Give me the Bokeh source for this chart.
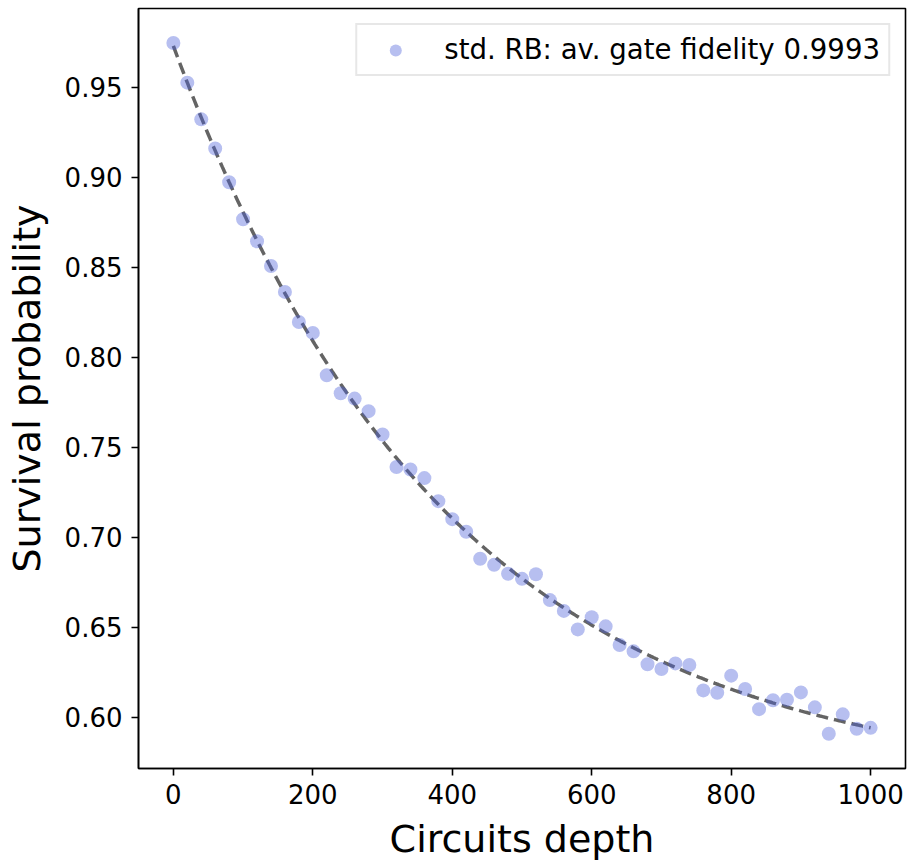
import numpy as np
from bokeh.plotting import figure
from bokeh.models import Range1d, FixedTicker, NumeralTickFormatter, Legend, LegendItem, ColumnDataSource
from bokeh.embed import file_html
from bokeh.resources import INLINE

# ---- data ----
depth = [0, 20, 40, 60, 80, 100, 120, 140, 160, 180,
         200, 220, 240, 260, 280, 300, 320, 340, 360, 380,
         400, 420, 440, 460, 480, 500, 520, 540, 560, 580,
         600, 620, 640, 660, 680, 700, 720, 740, 760, 780,
         800, 820, 840, 860, 880, 900, 920, 940, 960, 980, 1000]
survival = [0.9746, 0.9526, 0.9322, 0.9160, 0.8972, 0.8767, 0.8644, 0.8507, 0.8363, 0.8196,
            0.8135, 0.7900, 0.7800, 0.7770, 0.7700, 0.7570, 0.7390, 0.7376, 0.7328, 0.7200,
            0.7100, 0.7030, 0.6880, 0.6846, 0.6796, 0.6768, 0.6794, 0.6650, 0.6590, 0.6487,
            0.6555, 0.6504, 0.6400, 0.6365, 0.6293, 0.6267, 0.6298, 0.6289, 0.6148, 0.6135,
            0.6230, 0.6156, 0.6044, 0.6093, 0.6096, 0.6137, 0.6054, 0.5907, 0.6015, 0.5935, 0.5940]

# exponential decay fit  A * p**m + B  (parameters)
FIT_A = 0.4113
FIT_P = 0.99746
FIT_B = 0.5617

x_ticks = [0, 200, 400, 600, 800, 1000]
y_ticks = [0.60, 0.65, 0.70, 0.75, 0.80, 0.85, 0.90, 0.95]
legend_label = "std. RB: av. gate fidelity 0.9993"
x_label = "Circuits depth"
y_label = "Survival probability"

# ---- figure ----
p = figure(width=908, height=865, output_backend="svg", toolbar_location=None,
           x_range=Range1d(-50, 1050), y_range=Range1d(0.5714, 0.9938),
           min_border_left=138, min_border_right=3, min_border_top=8, min_border_bottom=97)
p.background_fill_color = "white"
p.border_fill_color = "white"
p.outline_line_color = "black"
p.outline_line_width = 1.6
p.grid.visible = False

fit_x = np.linspace(min(depth), max(depth), 400)
fit_y = FIT_A * FIT_P ** fit_x + FIT_B
line_r = p.line(fit_x, fit_y, line_color="#646464", line_width=3.5, line_dash="12 6")

src = ColumnDataSource(dict(x=depth, y=survival))
pts = p.scatter("x", "y", source=src, size=14, fill_color="#4a5fd9", fill_alpha=0.4,
                line_color=None)

legend = Legend(items=[LegendItem(label=legend_label, renderers=[pts])],
                location="top_right", margin=15, padding=8, glyph_width=60, glyph_height=30,
                label_standoff=19, label_text_font="DejaVu Sans", label_text_font_size="27.6px",
                label_text_color="black", border_line_color="#d0d0d0", border_line_width=2,
                background_fill_alpha=0.8, spacing=0, label_height=30)
p.add_layout(legend)

for ax in (p.xaxis[0], p.yaxis[0]):
    ax.major_tick_out = 7
    ax.major_tick_in = 0
    ax.minor_tick_out = 0
    ax.minor_tick_in = 0
    ax.axis_line_width = 1.6
    ax.axis_line_color = "black"
    ax.major_tick_line_width = 1.6
    ax.major_tick_line_color = "black"
    ax.major_label_text_font = "DejaVu Sans"
    ax.major_label_text_font_size = "26px"
    ax.major_label_text_color = "black"
    ax.axis_label_text_font = "DejaVu Sans"
    ax.axis_label_text_font_size = "38px"
    ax.axis_label_text_font_style = "normal"
    ax.axis_label_text_color = "black"

p.xaxis[0].ticker = FixedTicker(ticks=x_ticks)
p.yaxis[0].ticker = FixedTicker(ticks=y_ticks)
p.yaxis[0].formatter = NumeralTickFormatter(format="0.00")
p.xaxis[0].axis_label = x_label
p.yaxis[0].axis_label = y_label
p.xaxis[0].major_label_standoff = 8
p.yaxis[0].major_label_standoff = 9
p.xaxis[0].axis_label_standoff = 10
p.yaxis[0].axis_label_standoff = 13

open("out.html", "w").write(file_html(p, INLINE))
